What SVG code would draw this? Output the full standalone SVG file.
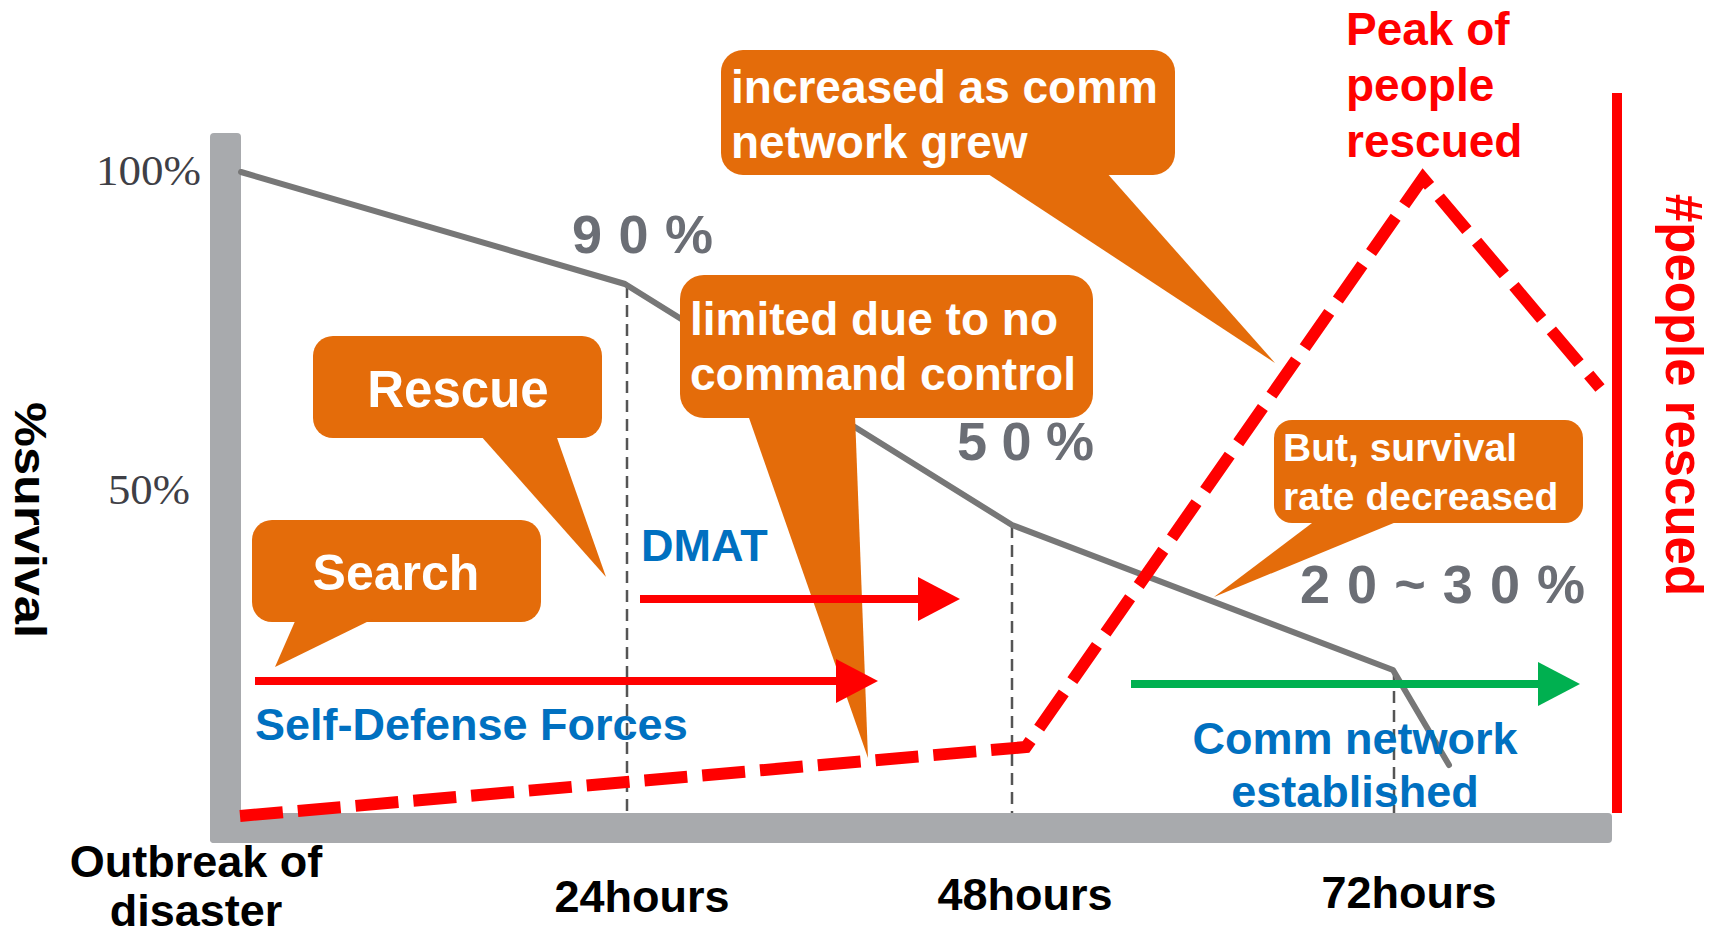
<svg xmlns="http://www.w3.org/2000/svg" width="1709" height="933" viewBox="0 0 1709 933">
<defs>
<style>
.ax{fill:#a8aaad}
.gdash{stroke:#555;stroke-width:2.5;stroke-dasharray:12 7;fill:none}
.curve{stroke:#777;stroke-width:6;fill:none;stroke-linejoin:round;stroke-linecap:round}
.serif{font-family:"Liberation Serif","Times New Roman",serif;font-size:43px;fill:#3f3f46}
.pct{font-family:"Liberation Sans",Arial,sans-serif;font-weight:bold;font-size:54px;fill:#6b6e75}
.b{font-family:"Liberation Sans",Arial,sans-serif;font-weight:bold}
.blk{font-size:45px;fill:#000}
.blue{font-size:45px;fill:#0070c0}
.red{fill:#ff0000}
.call{fill:#e46c0a}
.wt{fill:#ffffff}
.arrR{stroke:#ff0000;stroke-width:8;fill:none}
.arrG{stroke:#00b050;stroke-width:8;fill:none}
.rdash{stroke:#ff0000;stroke-width:12;fill:none;stroke-dasharray:43 15;stroke-linejoin:miter}
</style>
<marker id="ahR" viewBox="0 0 42 44" refX="4" refY="22" markerWidth="42" markerHeight="44" markerUnits="userSpaceOnUse" orient="auto"><path d="M0,0 L42,22 L0,44 z" fill="#ff0000"/></marker>
<marker id="ahG" viewBox="0 0 42 44" refX="4" refY="22" markerWidth="42" markerHeight="44" markerUnits="userSpaceOnUse" orient="auto"><path d="M0,0 L42,22 L0,44 z" fill="#00b050"/></marker>
</defs>
<rect width="1709" height="933" fill="#ffffff"/>
<g id="axes">
<rect class="ax" x="210" y="133" width="31" height="710" rx="4"/>
<rect class="ax" x="210" y="813" width="1402" height="30" rx="4"/>
<line class="gdash" x1="627" y1="286" x2="627" y2="813"/>
<line class="gdash" x1="1012" y1="526" x2="1012" y2="813"/>
<line class="gdash" x1="1394" y1="672" x2="1394" y2="813"/>
<polyline class="curve" points="241,172 625,284 1012,525 1393,670 1449,765"/>
<text class="serif" x="96" y="185" textLength="105" lengthAdjust="spacingAndGlyphs">100%</text>
<text class="serif" x="108" y="504" textLength="82" lengthAdjust="spacingAndGlyphs">50%</text>
<text class="pct" x="572" y="253" textLength="141" lengthAdjust="spacing">90%</text>
<text class="pct" x="957" y="460" textLength="137" lengthAdjust="spacing">50%</text>
<text class="pct" x="1300" y="603" textLength="285" lengthAdjust="spacing">20~30%</text>
</g>
<g id="axis-labels">
<text class="b blk" transform="translate(15,402) rotate(90)" font-size="52" textLength="236" lengthAdjust="spacingAndGlyphs">%survival</text>
<text class="b red" transform="translate(1666,194) rotate(90)" font-size="51" textLength="402" lengthAdjust="spacingAndGlyphs">#people rescued</text>
<text class="b blk" x="196" y="877" text-anchor="middle">Outbreak of</text>
<text class="b blk" x="196" y="926" text-anchor="middle">disaster</text>
<text class="b blk" x="642" y="912" text-anchor="middle">24hours</text>
<text class="b blk" x="1025" y="910" text-anchor="middle">48hours</text>
<text class="b blk" x="1409" y="908" text-anchor="middle">72hours</text>
</g>
<g id="callout-increased">
<rect class="call" x="721" y="50" width="454" height="125" rx="22"/>
<polygon class="call" points="985,172 1106,172 1275,363"/>
<text class="b wt" x="731" y="103" font-size="46">increased as comm</text>
<text class="b wt" x="731" y="158" font-size="46">network grew</text>
</g>
<g id="callout-limited">
<rect class="call" x="680" y="275" width="413" height="143" rx="24"/>
<polygon class="call" points="748,415 855,415 868,758"/>
<text class="b wt" x="690" y="335" font-size="46">limited due to no</text>
<text class="b wt" x="690" y="390" font-size="46">command control</text>
</g>
<g id="callout-rescue">
<rect class="call" x="313" y="336" width="289" height="102" rx="20"/>
<polygon class="call" points="480,435 556,435 606,577"/>
<text class="b wt" x="458" y="407" font-size="51" text-anchor="middle">Rescue</text>
</g>
<g id="callout-search">
<rect class="call" x="252" y="520" width="289" height="102" rx="20"/>
<polygon class="call" points="296,619 373,619 275,667"/>
<text class="b wt" x="396" y="590" font-size="50" text-anchor="middle">Search</text>
</g>
<g id="callout-but">
<rect class="call" x="1274" y="420" width="309" height="103" rx="18"/>
<polygon class="call" points="1316,520 1401,520 1214,597"/>
<text class="b wt" x="1283" y="461" font-size="39">But, survival</text>
<text class="b wt" x="1283" y="510" font-size="39">rate decreased</text>
</g>
<g id="connectors">
<polyline class="rdash" points="240,816 1026,747 1423,178 1600,388"/>
<line class="arrR" x1="255" y1="681" x2="840" y2="681" marker-end="url(#ahR)"/>
<line class="arrR" x1="640" y1="599" x2="922" y2="599" marker-end="url(#ahR)"/>
<line class="arrG" x1="1131" y1="684" x2="1542" y2="684" marker-end="url(#ahG)"/>
<rect x="1612" y="93" width="10" height="720" fill="#ff0000"/>
</g>
<g id="labels">
<text class="b blue" x="641" y="561">DMAT</text>
<text class="b blue" x="255" y="740">Self-Defense Forces</text>
<text class="b blue" x="1355" y="754" text-anchor="middle">Comm network</text>
<text class="b blue" x="1355" y="807" text-anchor="middle">established</text>
<text class="b red" x="1346" y="45" font-size="46">Peak of</text>
<text class="b red" x="1346" y="101" font-size="46">people</text>
<text class="b red" x="1346" y="157" font-size="46">rescued</text>
</g>
</svg>
